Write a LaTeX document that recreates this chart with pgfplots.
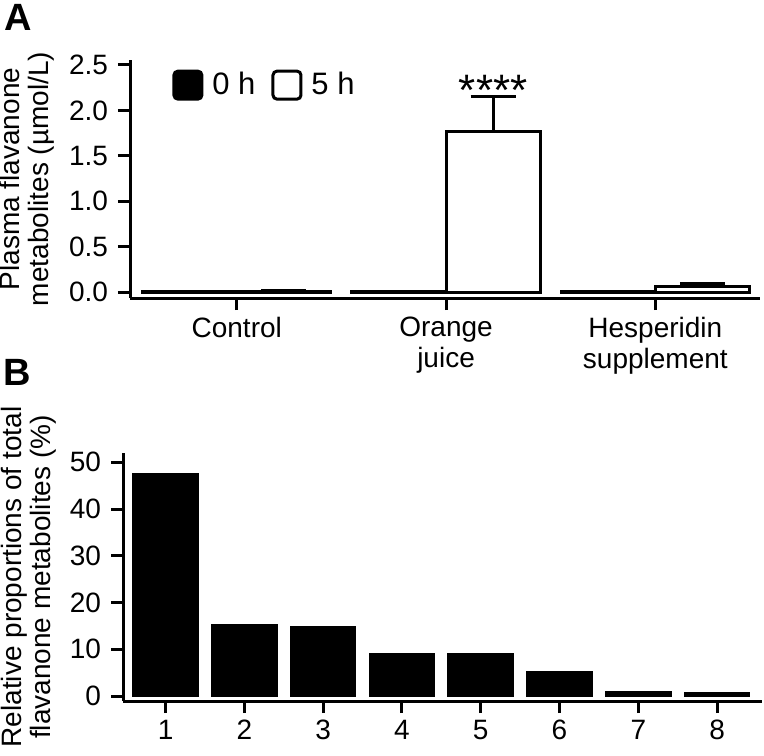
\documentclass[border=0pt]{standalone}
\usepackage{fontspec}
\setmainfont{Liberation Sans}
\usepackage{pgfplots}
\pgfplotsset{compat=1.18}

\pgfplotsset{
  panel/.style={
    scale only axis,
    axis lines=left,
    axis line style={line width=1.5pt, -},
    tick style={line width=1.5pt, black},
    tick align=outside,
    major tick length=6pt,
    /pgf/number format/assume math mode=true,
    tick label style={font=\fontsize{14}{15.5}\selectfont},
    yticklabel style={xshift=-1.5pt},
    label style={font=\fontsize{14}{14.5}\selectfont},
    ylabel style={at={(rel axis cs:0,0.5)}, anchor=south, align=center, inner sep=0pt},
    clip=false,
  },
}

\begin{document}
\begin{tikzpicture}[x=1pt,y=1pt]
\useasboundingbox (0,0) rectangle (382,-377.5);

% panel A
\begin{axis}[panel,
  at={(65pt,-149pt)}, anchor=south west,
  width=315pt, height=119pt,
  xmin=0.49, xmax=3.5, ymin=-0.066, ymax=2.555,
  xtick={1,2,3},
  xticklabels={Control, Orange\\juice, Hesperidin\\supplement},
  xticklabel style={align=center},
  ytick={0,0.5,1,1.5,2,2.5},
  yticklabel style={/pgf/number format/.cd, fixed, fixed zerofill, precision=1},
  ylabel={Plasma flavanone\\metabolites (µmol/L)},
  ylabel style={yshift=37.5pt},
  ybar=0pt, bar width=0.45,
  legend columns=2,
  legend style={at={(rel axis cs:0,1)}, anchor=north west, xshift=21pt, yshift=-4pt,
    draw=none, fill=none, inner sep=0pt,
    font=\fontsize{15.5}{17}\selectfont,
    /tikz/every even column/.append style={column sep=6pt}},
  legend image code/.code={\draw[#1, line width=1.5pt, rounded corners=2pt] (0pt,-7pt) rectangle (14pt,7pt);},
]
\addplot[fill=black, draw=black, line width=1.5pt] coordinates {
  (1,0.005) (2,0.005) (3,0.005)
};
\addlegendentry{\hspace{2.5pt}0 h}
\addplot[fill=white, draw=black, line width=1.5pt,
  error bars/.cd, y dir=plus, y explicit, error mark=-,
  error bar style={line width=1.5pt, black},
  error mark options={rotate=90, line width=1.5pt, mark size=11.25pt, black}]
  coordinates {
  (1,0.008) +- (0,0.004)
  (2,1.773) +- (0,0.377)
  (3,0.06) +- (0,0.03)
};
\addlegendentry{\hspace{2.5pt}5 h}
\node[font=\fontsize{22}{24}\selectfont, anchor=base, yshift=-4.5pt] at (axis cs:2.225,2.15) {****};
\end{axis}

% panel B
\begin{axis}[panel,
  at={(61.5pt,-350.5pt)}, anchor=south west,
  width=319.5pt, height=124pt,
  xmin=0.46, xmax=8.57, ymin=-1.07, ymax=52,
  xtick={1,2,3,4,5,6,7,8},
  ytick={0,10,20,30,40,50},
  ylabel={Relative proportions of total\\flavanone metabolites (\%)},
  ylabel style={yshift=33pt},
  ybar=0pt, bar width=0.82,
]
\addplot[fill=black, draw=black, line width=1pt] coordinates {
  (1,47.5) (2,15.2) (3,14.8) (4,9.0) (5,8.9) (6,5.1) (7,0.9) (8,0.6)
};
\end{axis}

\node[font=\bfseries\fontsize{19}{20}\selectfont, anchor=center] at (9pt,-8.5pt) {A};
\node[font=\bfseries\fontsize{19}{20}\selectfont, anchor=center] at (8.5pt,-186pt) {B};
\end{tikzpicture}
\end{document}
